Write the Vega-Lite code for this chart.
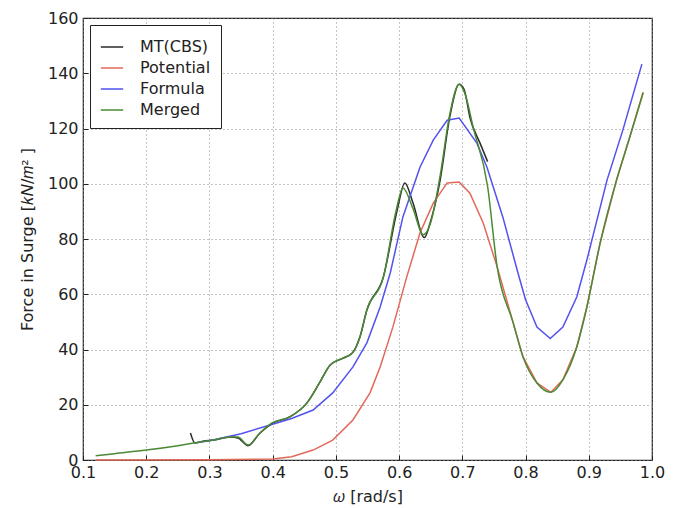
{
  "$schema": "https://vega.github.io/schema/vega-lite/v6.json",
  "width": 569,
  "height": 442,
  "autosize": "none",
  "padding": {"left": 83, "top": 18, "right": 27, "bottom": 48},
  "background": "white",
  "config": {
    "font": "DejaVu Sans",
    "view": {"stroke": "#222", "strokeWidth": 1.2},
    "axis": {"labelFont": "DejaVu Sans", "titleFont": "DejaVu Sans", "labelFontSize": 16, "titleFontSize": 16, "labelColor": "#222", "titleColor": "#222", "titleFontWeight": "normal", "tickColor": "#222", "domain": false}
  },
  "datasets": {
    "rows": [
      {"w": 0.270, "f": 9.8, "s": "MT(CBS)"},
      {"w": 0.277, "f": 6.2, "s": "MT(CBS)"},
      {"w": 0.290, "f": 6.8, "s": "MT(CBS)"},
      {"w": 0.306, "f": 7.2, "s": "MT(CBS)"},
      {"w": 0.333, "f": 8.3, "s": "MT(CBS)"},
      {"w": 0.345, "f": 8.0, "s": "MT(CBS)"},
      {"w": 0.361, "f": 5.2, "s": "MT(CBS)"},
      {"w": 0.380, "f": 9.8, "s": "MT(CBS)"},
      {"w": 0.399, "f": 13.2, "s": "MT(CBS)"},
      {"w": 0.427, "f": 15.6, "s": "MT(CBS)"},
      {"w": 0.454, "f": 20.6, "s": "MT(CBS)"},
      {"w": 0.474, "f": 27.9, "s": "MT(CBS)"},
      {"w": 0.491, "f": 34.4, "s": "MT(CBS)"},
      {"w": 0.511, "f": 36.8, "s": "MT(CBS)"},
      {"w": 0.526, "f": 38.7, "s": "MT(CBS)"},
      {"w": 0.538, "f": 44.5, "s": "MT(CBS)"},
      {"w": 0.549, "f": 54.3, "s": "MT(CBS)"},
      {"w": 0.575, "f": 66.2, "s": "MT(CBS)"},
      {"w": 0.597, "f": 90.5, "s": "MT(CBS)"},
      {"w": 0.609, "f": 100.3, "s": "MT(CBS)"},
      {"w": 0.622, "f": 93.0, "s": "MT(CBS)"},
      {"w": 0.640, "f": 80.5, "s": "MT(CBS)"},
      {"w": 0.649, "f": 85.8, "s": "MT(CBS)"},
      {"w": 0.665, "f": 101.4, "s": "MT(CBS)"},
      {"w": 0.680, "f": 124.0, "s": "MT(CBS)"},
      {"w": 0.695, "f": 136.0, "s": "MT(CBS)"},
      {"w": 0.703, "f": 134.0, "s": "MT(CBS)"},
      {"w": 0.712, "f": 124.0, "s": "MT(CBS)"},
      {"w": 0.728, "f": 114.7, "s": "MT(CBS)"},
      {"w": 0.740, "f": 108.0, "s": "MT(CBS)"},

      {"w": 0.12, "f": 0.0, "s": "Potential"},
      {"w": 0.30, "f": 0.05, "s": "Potential"},
      {"w": 0.40, "f": 0.4, "s": "Potential"},
      {"w": 0.43, "f": 1.2, "s": "Potential"},
      {"w": 0.464, "f": 3.6, "s": "Potential"},
      {"w": 0.495, "f": 7.2, "s": "Potential"},
      {"w": 0.527, "f": 14.5, "s": "Potential"},
      {"w": 0.554, "f": 24.3, "s": "Potential"},
      {"w": 0.570, "f": 33.7, "s": "Potential"},
      {"w": 0.590, "f": 48.0, "s": "Potential"},
      {"w": 0.612, "f": 66.2, "s": "Potential"},
      {"w": 0.633, "f": 82.2, "s": "Potential"},
      {"w": 0.654, "f": 93.0, "s": "Potential"},
      {"w": 0.676, "f": 100.3, "s": "Potential"},
      {"w": 0.695, "f": 100.6, "s": "Potential"},
      {"w": 0.712, "f": 96.6, "s": "Potential"},
      {"w": 0.733, "f": 85.8, "s": "Potential"},
      {"w": 0.755, "f": 70.0, "s": "Potential"},
      {"w": 0.780, "f": 50.0, "s": "Potential"},
      {"w": 0.796, "f": 37.3, "s": "Potential"},
      {"w": 0.818, "f": 27.9, "s": "Potential"},
      {"w": 0.840, "f": 24.5, "s": "Potential"},
      {"w": 0.859, "f": 29.0, "s": "Potential"},
      {"w": 0.881, "f": 40.9, "s": "Potential"},
      {"w": 0.897, "f": 55.4, "s": "Potential"},
      {"w": 0.918, "f": 78.6, "s": "Potential"},
      {"w": 0.944, "f": 101.4, "s": "Potential"},
      {"w": 0.965, "f": 117.0, "s": "Potential"},
      {"w": 0.986, "f": 133.0, "s": "Potential"},

      {"w": 0.277, "f": 6.2, "s": "Formula"},
      {"w": 0.300, "f": 7.0, "s": "Formula"},
      {"w": 0.350, "f": 9.5, "s": "Formula"},
      {"w": 0.396, "f": 12.7, "s": "Formula"},
      {"w": 0.430, "f": 15.0, "s": "Formula"},
      {"w": 0.464, "f": 18.1, "s": "Formula"},
      {"w": 0.495, "f": 24.3, "s": "Formula"},
      {"w": 0.527, "f": 33.7, "s": "Formula"},
      {"w": 0.549, "f": 42.4, "s": "Formula"},
      {"w": 0.570, "f": 55.4, "s": "Formula"},
      {"w": 0.586, "f": 67.7, "s": "Formula"},
      {"w": 0.606, "f": 88.0, "s": "Formula"},
      {"w": 0.633, "f": 106.0, "s": "Formula"},
      {"w": 0.654, "f": 115.8, "s": "Formula"},
      {"w": 0.676, "f": 123.0, "s": "Formula"},
      {"w": 0.695, "f": 123.8, "s": "Formula"},
      {"w": 0.723, "f": 114.7, "s": "Formula"},
      {"w": 0.739, "f": 106.0, "s": "Formula"},
      {"w": 0.764, "f": 88.0, "s": "Formula"},
      {"w": 0.788, "f": 67.7, "s": "Formula"},
      {"w": 0.800, "f": 58.0, "s": "Formula"},
      {"w": 0.818, "f": 48.1, "s": "Formula"},
      {"w": 0.839, "f": 44.0, "s": "Formula"},
      {"w": 0.859, "f": 48.1, "s": "Formula"},
      {"w": 0.881, "f": 59.0, "s": "Formula"},
      {"w": 0.897, "f": 72.4, "s": "Formula"},
      {"w": 0.929, "f": 101.4, "s": "Formula"},
      {"w": 0.954, "f": 119.5, "s": "Formula"},
      {"w": 0.984, "f": 143.3, "s": "Formula"},

      {"w": 0.12, "f": 1.5, "s": "Merged"},
      {"w": 0.15, "f": 2.3, "s": "Merged"},
      {"w": 0.20, "f": 3.6, "s": "Merged"},
      {"w": 0.25, "f": 5.2, "s": "Merged"},
      {"w": 0.28, "f": 6.3, "s": "Merged"},
      {"w": 0.306, "f": 7.2, "s": "Merged"},
      {"w": 0.333, "f": 8.3, "s": "Merged"},
      {"w": 0.345, "f": 8.3, "s": "Merged"},
      {"w": 0.361, "f": 5.4, "s": "Merged"},
      {"w": 0.380, "f": 9.8, "s": "Merged"},
      {"w": 0.399, "f": 13.4, "s": "Merged"},
      {"w": 0.427, "f": 15.6, "s": "Merged"},
      {"w": 0.454, "f": 20.6, "s": "Merged"},
      {"w": 0.474, "f": 27.9, "s": "Merged"},
      {"w": 0.491, "f": 34.4, "s": "Merged"},
      {"w": 0.511, "f": 36.9, "s": "Merged"},
      {"w": 0.526, "f": 38.7, "s": "Merged"},
      {"w": 0.538, "f": 44.5, "s": "Merged"},
      {"w": 0.549, "f": 54.3, "s": "Merged"},
      {"w": 0.575, "f": 66.0, "s": "Merged"},
      {"w": 0.595, "f": 90.0, "s": "Merged"},
      {"w": 0.606, "f": 98.5, "s": "Merged"},
      {"w": 0.622, "f": 91.0, "s": "Merged"},
      {"w": 0.638, "f": 81.5, "s": "Merged"},
      {"w": 0.650, "f": 86.0, "s": "Merged"},
      {"w": 0.665, "f": 103.0, "s": "Merged"},
      {"w": 0.680, "f": 125.0, "s": "Merged"},
      {"w": 0.695, "f": 136.0, "s": "Merged"},
      {"w": 0.705, "f": 132.0, "s": "Merged"},
      {"w": 0.717, "f": 120.5, "s": "Merged"},
      {"w": 0.740, "f": 99.0, "s": "Merged"},
      {"w": 0.755, "f": 70.0, "s": "Merged"},
      {"w": 0.780, "f": 50.0, "s": "Merged"},
      {"w": 0.796, "f": 37.3, "s": "Merged"},
      {"w": 0.818, "f": 27.9, "s": "Merged"},
      {"w": 0.840, "f": 24.5, "s": "Merged"},
      {"w": 0.859, "f": 29.0, "s": "Merged"},
      {"w": 0.881, "f": 40.9, "s": "Merged"},
      {"w": 0.897, "f": 55.4, "s": "Merged"},
      {"w": 0.918, "f": 78.6, "s": "Merged"},
      {"w": 0.944, "f": 101.4, "s": "Merged"},
      {"w": 0.965, "f": 117.0, "s": "Merged"},
      {"w": 0.986, "f": 133.0, "s": "Merged"}
    ]
  },
  "data": {"name": "rows"},
  "encoding": {
    "x": {"field": "w", "type": "quantitative",
      "scale": {"domain": [0.1, 1.0], "nice": false, "zero": false},
      "axis": {"title": "𝜔 [rad/s]", "values": [0.1, 0.2, 0.3, 0.4, 0.5, 0.6, 0.7, 0.8, 0.9, 1.0], "format": ".1f",
        "grid": true, "gridDash": [1, 3], "gridColor": "#888", "gridWidth": 1,
        "tickSize": -5, "labelPadding": 9, "titlePadding": 8, "labelFlush": false}},
    "y": {"field": "f", "type": "quantitative",
      "scale": {"domain": [0, 160], "nice": false},
      "axis": {"title": "Force in Surge [𝑘𝑁/𝑚² ]", "values": [0, 20, 40, 60, 80, 100, 120, 140, 160],
        "grid": true, "gridDash": [1, 3], "gridColor": "#888", "gridWidth": 1,
        "tickSize": -5, "labelPadding": 10, "titlePadding": 12, "labelFlush": false}},
    "color": {"field": "s", "type": "nominal",
      "scale": {"domain": ["MT(CBS)", "Potential", "Formula", "Merged"], "range": ["#2b2b2b", "#e2695a", "#5252ee", "#4a8a35"]},
      "legend": {"title": null, "orient": "none", "legendX": 7, "legendY": 7, "symbolType": "stroke", "symbolSize": 500, "symbolStrokeWidth": 1.5,
        "labelFontSize": 16, "labelFont": "DejaVu Sans", "labelColor": "#222", "labelOffset": 16, "rowPadding": 1,
        "padding": 10, "strokeColor": "#222", "fillColor": "white"}}
  },
  "layer": [
    {"transform": [{"filter": "datum.s === 'MT(CBS)'"}], "mark": {"type": "line", "strokeWidth": 1.5, "interpolate": "monotone"}},
    {"transform": [{"filter": "datum.s === 'Potential'"}], "mark": {"type": "line", "strokeWidth": 1.5}},
    {"transform": [{"filter": "datum.s === 'Formula'"}], "mark": {"type": "line", "strokeWidth": 1.5}},
    {"transform": [{"filter": "datum.s === 'Merged'"}], "mark": {"type": "line", "strokeWidth": 1.5, "interpolate": "monotone"}}
  ]
}
